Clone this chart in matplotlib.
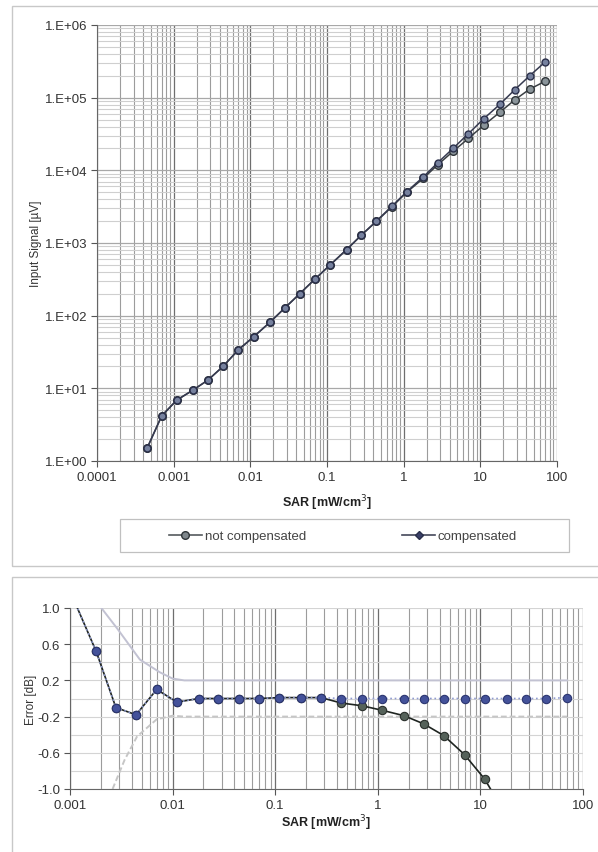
import matplotlib
matplotlib.use("Agg")
import matplotlib.pyplot as plt
import matplotlib.ticker as mticker
from matplotlib.lines import Line2D
from matplotlib.patches import Rectangle
import numpy as np

plt.rcParams['font.family'] = ['Liberation Sans', 'DejaVu Sans']

# SAR values [mW/cm3], common to both series
sar = [0.00045, 0.0007, 0.0011, 0.0018, 0.0028, 0.0044, 0.007, 0.011, 0.018,
       0.028, 0.044, 0.07, 0.11, 0.18, 0.28, 0.44, 0.7, 1.1, 1.8, 2.8, 4.4,
       7.0, 11.0, 18.0, 28.0, 44.0, 70.0]

# input signal [uV]
sig_not_comp = [1.5, 4.2, 6.9, 9.5, 13, 20, 34, 51, 81, 127, 200, 320, 500,
                810, 1280, 1980, 3140, 5000, 7750, 12000, 18200, 27500, 41500,
                63000, 93000, 131000, 168000]
sig_comp = [1.5, 4.2, 6.9, 9.5, 13, 20, 34, 51, 81, 127, 200, 320, 500,
            810, 1280, 2000, 3200, 5100, 8100, 12800, 20000, 32000, 51000,
            81000, 128000, 200000, 310000]

# error [dB], from 0.0011 on (earlier points are off the scale)
sar_err = sar[2:]
err_not_comp = [1.08, 0.52, -0.10, -0.18, 0.10, -0.04, 0.0, 0.0, 0.0, 0.0,
                0.01, 0.01, 0.01, -0.05, -0.08, -0.13, -0.19, -0.28,
                -0.41, -0.62, -0.89, -1.3, -1.8, -2.3, -2.8]
err_comp = [1.08, 0.52, -0.10, -0.18, 0.10, -0.04, 0.0, 0.0, 0.0, 0.0,
            0.01, 0.01, 0.01, 0.0, 0.0, 0.0, 0.0, 0.0, 0.0, 0.0, 0.0,
            0.0, 0.0, 0.0, 0.01]

# uncertainty limits
lim_up_x = [0.0018, 0.0019, 0.0029, 0.0048, 0.0075, 0.010, 0.013, 70.0]
lim_up_y = [1.10, 1.04, 0.77, 0.43, 0.29, 0.22, 0.20, 0.20]
lim_lo_x = [0.0026, 0.0034, 0.0045, 0.0070, 0.010, 0.013, 70.0]
lim_lo_y = [-1.00, -0.68, -0.42, -0.23, -0.19, -0.20, -0.20]

top_ticks = ['0.0001', '0.001', '0.01', '0.1', '1', '10', '100']
bot_ticks = ['0.001', '0.01', '0.1', '1', '10', '100']

fig = plt.figure(figsize=(5.98, 8.53), dpi=100)

# chart area frames
fig.patches.append(Rectangle((12/598, 1-567/853), 600/598, 560/853, transform=fig.transFigure,
                             fill=False, edgecolor='#c8c8c8', lw=1.0))
fig.patches.append(Rectangle((12/598, -0.01), 600/598, 1-578/853+0.01, transform=fig.transFigure,
                             fill=False, edgecolor='#c8c8c8', lw=1.0))


def log_grid(ax):
    ax.set_axisbelow(True)
    ax.grid(True, which='major', axis='x', color='#6e6e6e', lw=0.9)
    ax.grid(True, which='minor', axis='x', color='#9c9c9c', lw=0.8)
    ax.grid(True, which='major', axis='y', color='#a8a8a8', lw=0.9)
    ax.grid(True, which='minor', axis='y', color='#cfcfcf', lw=0.8)


# ---- top chart
ax1 = fig.add_axes([97/598, 1-462/853, 460/598, 436/853])
ax1.set_xscale('log')
ax1.set_yscale('log')
ax1.set_xlim(1e-4, 100)
ax1.set_ylim(1, 1e6)
log_grid(ax1)
ax1.xaxis.set_minor_locator(mticker.LogLocator(base=10, subs=np.arange(2, 10), numticks=20))
ax1.yaxis.set_minor_locator(mticker.LogLocator(base=10, subs=np.arange(2, 10), numticks=20))
ax1.xaxis.set_minor_formatter(mticker.NullFormatter())
ax1.yaxis.set_minor_formatter(mticker.NullFormatter())
ax1.set_xticks([10.0**k for k in range(-4, 3)])
ax1.set_xticklabels(top_ticks)
ax1.yaxis.set_major_locator(mticker.FixedLocator([10.0**k for k in range(0, 7)]))
ax1.yaxis.set_major_formatter(mticker.FuncFormatter(lambda v, p: "1.E+%02d" % int(round(np.log10(v)))))
ax1.tick_params(which='major', direction='out', length=4, color='#555555', labelsize=9.5,
                labelcolor='#333333', pad=3)
ax1.tick_params(which='minor', length=0)
for s in ['top', 'right']:
    ax1.spines[s].set_visible(False)
for s in ['left', 'bottom']:
    ax1.spines[s].set_color('#666666')

ax1.plot(sar, sig_not_comp, '-', color='#3a3f44', lw=1.1, marker='o', ms=5.5,
         mfc='#8a949a', mec='#2e3438', mew=1.0, zorder=3)
ax1.plot(sar, sig_comp, '-', color='#363a50', lw=1.1, marker='o', ms=5,
         mfc='#76819e', mec='#2a2f4a', mew=1.0, zorder=4)
ax1.set_xlabel('SAR [mW/cm$^3$]', fontsize=9, fontweight='bold', color='#222222', labelpad=7)
ax1.set_ylabel('Input Signal [\u00b5V]', fontsize=8.5, color='#333333', labelpad=2)

# legend
fig.patches.append(Rectangle((120/598, 1-553/853), 449/598, 33/853, transform=fig.transFigure,
                             fill=False, edgecolor='#c0c0c0', lw=0.9))
h1 = Line2D([], [], color='#555a5e', lw=1.2, marker='o', ms=5.5, mfc='#7f878c', mec='#2e3438')
h2 = Line2D([], [], color='#44485a', lw=1.2, marker='D', ms=4.5, mfc='#3a4068', mec='#2a2f4a')
fig.legend([h1, h2], ['not compensated', 'compensated'], ncol=2, loc='center',
           bbox_to_anchor=(343/598, 1-537/853), frameon=False, fontsize=9.5,
           handlelength=2.5, handletextpad=0.2, columnspacing=7.3,
           labelcolor='#444444')

# ---- bottom chart
ax2 = fig.add_axes([70/598, 1-790/853, 513/598, 181/853])
ax2.set_xscale('log')
ax2.set_xlim(1e-3, 100)
ax2.set_ylim(-1.0, 1.0)
ax2.set_axisbelow(True)
ax2.xaxis.set_minor_locator(mticker.LogLocator(base=10, subs=np.arange(2, 10), numticks=20))
ax2.xaxis.set_minor_formatter(mticker.NullFormatter())
ax2.set_xticks([10.0**k for k in range(-3, 3)])
ax2.set_xticklabels(bot_ticks)
ax2.set_yticks([1.0, 0.6, 0.2, -0.2, -0.6, -1.0])
ax2.yaxis.set_major_formatter(mticker.FormatStrFormatter('%.1f'))
ax2.yaxis.set_minor_locator(mticker.MultipleLocator(0.2))
ax2.grid(True, which='major', axis='x', color='#6e6e6e', lw=0.9)
ax2.grid(True, which='minor', axis='x', color='#9c9c9c', lw=0.8)
ax2.grid(True, which='both', axis='y', color='#d4d4d4', lw=0.8)
ax2.tick_params(which='major', direction='out', length=4, color='#555555', labelsize=9.5,
                labelcolor='#333333', pad=3)
ax2.tick_params(which='minor', length=0)
for s in ['top', 'right']:
    ax2.spines[s].set_visible(False)
for s in ['left', 'bottom']:
    ax2.spines[s].set_color('#666666')

ax2.plot(lim_up_x, lim_up_y, '-', color='#c2c2d2', lw=1.4, zorder=2)
ax2.plot(lim_lo_x, lim_lo_y, '--', color='#c6c6c6', lw=1.4, dashes=(3, 1.5), zorder=2)
ax2.plot(sar_err, err_not_comp, '-', color='#1e2420', lw=1.2, marker='o', ms=6,
         mfc='#55625a', mec='#2a302c', mew=0.8, zorder=3)
ax2.plot(sar_err, err_comp, ':', color='#8f9ad0', lw=1.2, marker='o', ms=6,
         mfc='#44529a', mec='#2c3670', mew=0.8, zorder=4)
ax2.set_xlabel('SAR [mW/cm$^3$]', fontsize=9, fontweight='bold', color='#222222', labelpad=1)
ax2.set_ylabel('Error [dB]', fontsize=8.5, color='#333333', labelpad=0)

fig.savefig('out.png', dpi=100)
